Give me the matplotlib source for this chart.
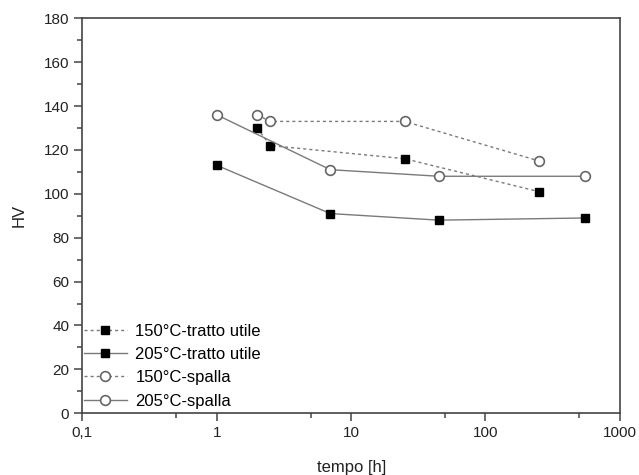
import matplotlib
matplotlib.use('Agg')
import matplotlib.pyplot as plt
from matplotlib.ticker import FixedLocator, MultipleLocator, FuncFormatter

plt.rcParams['font.family'] = ['Liberation Sans', 'DejaVu Sans']

# 150 C - tratto utile
t_150_tu  = [2, 2.5, 25, 250]
hv_150_tu = [130, 122, 116, 101]
# 205 C - tratto utile
t_205_tu  = [1, 7, 45, 550]
hv_205_tu = [113, 91, 88, 89]
# 150 C - spalla
t_150_sp  = [2, 2.5, 25, 250]
hv_150_sp = [136, 133, 133, 115]
# 205 C - spalla
t_205_sp  = [1, 7, 45, 550]
hv_205_sp = [136, 111, 108, 108]

xticks = [0.1, 1, 10, 100, 1000]
xticklabels = ['0,1', '1', '10', '100', '1000']

fig = plt.figure(figsize=(6.39, 4.75), dpi=100)
ax = fig.add_axes([0.129, 0.130, 0.841, 0.8315])

lc = '#7a7a7a'
dot = (0, (2.2, 2.2))
ax.plot(t_150_tu, hv_150_tu, color=lc, lw=1, ls=dot, marker='s', ms=6,
        mfc='black', mec='black', label='150°C-tratto utile')
ax.plot(t_205_tu, hv_205_tu, color=lc, lw=1, ls='-', marker='s', ms=6,
        mfc='black', mec='black', label='205°C-tratto utile')
ax.plot(t_150_sp, hv_150_sp, color=lc, lw=1, ls=dot, marker='o', ms=7,
        mfc='white', mec='#666666', mew=1.2, label='150°C-spalla')
ax.plot(t_205_sp, hv_205_sp, color=lc, lw=1, ls='-', marker='o', ms=7,
        mfc='white', mec='#666666', mew=1.2, label='205°C-spalla')

ax.set_xscale('log')
ax.set_xlim(0.1, 1000)
ax.set_ylim(0, 180)
ax.xaxis.set_major_locator(FixedLocator(xticks))
ax.xaxis.set_major_formatter(FuncFormatter(lambda v, p: xticklabels[xticks.index(v)] if v in xticks else ''))
ax.xaxis.set_minor_locator(FixedLocator([0.5, 5, 50, 500]))
ax.xaxis.set_minor_formatter(FuncFormatter(lambda v, p: ''))
ax.yaxis.set_major_locator(MultipleLocator(20))
ax.yaxis.set_minor_locator(MultipleLocator(10))

for s in ax.spines.values():
    s.set_color('#444444')
    s.set_linewidth(1.2)
ax.tick_params(which='both', direction='out', top=False, right=False,
               colors='#444444', labelcolor='#222222', labelsize=11)
ax.tick_params(which='major', length=6, width=1.1)
ax.tick_params(which='minor', length=3.5, width=1.1)

ax.set_xlabel('tempo [h]', fontsize=12, color='#222222', labelpad=14)
ax.set_ylabel('HV', fontsize=12, color='#222222', labelpad=12)

ax.legend(loc='lower left', frameon=False, fontsize=12, handlelength=2.6,
          handletextpad=0.5, labelspacing=0.5, borderaxespad=0.0,
          bbox_to_anchor=(-0.01, -0.005))

fig.savefig('out.png', dpi=100)
